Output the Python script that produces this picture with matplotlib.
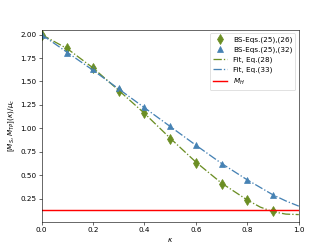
import numpy as np
import matplotlib.pyplot as plt

# BS data points
kappa = [0.0, 0.1, 0.2, 0.3, 0.4, 0.5, 0.6, 0.7, 0.8, 0.9]
ms_bs = [2.0, 1.855, 1.645, 1.40, 1.165, 0.89, 0.635, 0.41, 0.24, 0.115]
mtp_bs = [2.0, 1.80, 1.63, 1.425, 1.225, 1.025, 0.82, 0.615, 0.45, 0.29]

# fit curves
kappa_fit = [0.0, 0.1, 0.2, 0.3, 0.4, 0.5, 0.6, 0.7, 0.8, 0.85, 0.9, 0.95, 1.0]
ms_fit = [2.0, 1.85, 1.645, 1.405, 1.16, 0.895, 0.64, 0.415, 0.235, 0.16, 0.11, 0.085, 0.08]
mtp_fit = [2.0, 1.81, 1.62, 1.42, 1.22, 1.02, 0.82, 0.625, 0.45, 0.37, 0.29, 0.225, 0.17]

m_h = 0.125

green = '#6b8e23'
blue = '#4682b4'

fig, ax = plt.subplots(figsize=(6.4, 4.8), dpi=51.875)
ax.plot(kappa, ms_bs, 'd', color=green, markersize=9, label='BS-Eqs.(25),(26)')
ax.plot(kappa, mtp_bs, '^', color=blue, markersize=8.5, label='BS-Eqs.(25),(32)')
ax.plot(kappa_fit, ms_fit, '-.', color=green, lw=1.8, label='Fit, Eq.(28)')
ax.plot(kappa_fit, mtp_fit, '-.', color=blue, lw=1.8, label='Fit, Eq.(33)')
ax.axhline(m_h, color='red', lw=2, label='$M_H$')

ax.set_xlim(0, 1)
ax.set_ylim(0.005, 2.05)
ax.set_xlabel(r'$\kappa$')
ax.set_ylabel(r'$[M_S, M_{TP}](\kappa)/\mu_c$')
ax.legend(loc='upper right')

plt.savefig('out.png', dpi=51.875)
